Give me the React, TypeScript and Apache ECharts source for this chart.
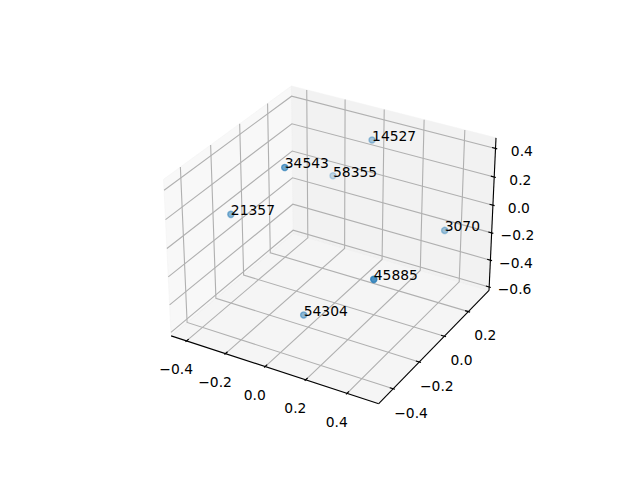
import React, { useEffect, useRef } from "react";
import * as echarts from "echarts";

const xLim = [-0.46, 0.53];
const yLim = [-0.49, 0.36];
const zLim = [-0.604, 0.451];
const xTicks = [-0.4, -0.2, 0.0, 0.2, 0.4];
const yTicks = [-0.4, -0.2, 0.0, 0.2];
const zTicks = [-0.6, -0.4, -0.2, 0.0, 0.2, 0.4];
const labels = ["14527", "3070", "45885", "34543", "21357", "58355", "54304"];
const xValues = [-0.018, 0.379, 0.41, -0.139, -0.375, -0.224, -0.011];
const yValues = [0.312, 0.272, -0.334, -0.158, -0.216, 0.32, -0.216];
const zValues = [0.299, -0.165, 0.015, 0.415, 0.043, -0.042, -0.527];

const DIST = 10;
const el = (30 * Math.PI) / 180, az = (-60 * Math.PI) / 180;
const W = [Math.cos(el) * Math.cos(az), Math.cos(el) * Math.sin(az), Math.sin(el)];
const n = Math.hypot(W[0], W[1]);
const U = [-W[1] / n, W[0] / n, 0];
const V = [W[1]*U[2]-W[2]*U[1], W[2]*U[0]-W[0]*U[2], W[0]*U[1]-W[1]*U[0]];
const k = 1.8294640721620434 / Math.hypot(4, 4, 3);
const B = [4 * k, 4 * k, 3 * k];
const OX = 143.2, OY = 427;
const dot = (a: number[], b: number[]) => a[0]*b[0]+a[1]*b[1]+a[2]*b[2];
function view(p: number[]) {
  const r = [
    (p[0]-xLim[0])/(xLim[1]-xLim[0])*B[0]-B[0]/2,
    (p[1]-yLim[0])/(yLim[1]-yLim[0])*B[1]-B[1]/2,
    (p[2]-zLim[0])/(zLim[1]-zLim[0])*B[2]-B[2]/2,
  ];
  return [dot(U,r),dot(V,r),dot(W,r)];
}
function project(p: number[]) {
  const v = view(p);
  const d = DIST - v[2];
  return [OX+(v[0]/d+0.095)/0.185*369.6, OY-(v[1]/d+0.095)/0.185*369.6];
}
const pts = xValues.map((x, i) => [x, yValues[i], zValues[i]]);
const depths = pts.map((p) => view(p)[2]);
const dMin = Math.min(...depths), dMax = Math.max(...depths);
const alphaOf = (i: number) => 0.3 + (0.7 * (depths[i] - dMin)) / (dMax - dMin);

const dx=(xLim[1]-xLim[0])/48, dy=(yLim[1]-yLim[0])/48, dz=(zLim[1]-zLim[0])/48;
const x0=xLim[0]-dx,x1=xLim[1]+dx,y0=yLim[0]-dy,y1=yLim[1]+dy,z0=zLim[0]-dz,z1=zLim[1]+dz;

type Poly={p:number[][],fill?:string,stroke?:string,w?:number};
const shapes:Poly[]=[];
const P=(a:number[][])=>a.map(project);
shapes.push({p:P([[x0,y0,z0],[x0,y1,z0],[x0,y1,z1],[x0,y0,z1]]),fill:"rgba(242,242,242,0.5)"});
shapes.push({p:P([[x0,y1,z0],[x1,y1,z0],[x1,y1,z1],[x0,y1,z1]]),fill:"rgba(230,230,230,0.5)"});
shapes.push({p:P([[x0,y0,z0],[x1,y0,z0],[x1,y1,z0],[x0,y1,z0]]),fill:"rgba(236,236,236,0.5)"});
const G="#b0b0b0";
xTicks.forEach(t=>shapes.push({p:P([[t,y0,z0],[t,y1,z0],[t,y1,z1]]),stroke:G,w:1.11}));
yTicks.forEach(t=>shapes.push({p:P([[x1,t,z0],[x0,t,z0],[x0,t,z1]]),stroke:G,w:1.11}));
zTicks.forEach(t=>shapes.push({p:P([[x0,y0,t],[x0,y1,t],[x1,y1,t]]),stroke:G,w:1.11}));
shapes.push({p:P([[x0,y0,z0],[x1,y0,z0]]),stroke:"#000",w:1.11});
shapes.push({p:P([[x1,y0,z0],[x1,y1,z0]]),stroke:"#000",w:1.11});
shapes.push({p:P([[x1,y1,z0],[x1,y1,z1]]),stroke:"#000",w:1.11});
const tx=(xLim[1]-xLim[0])/12, ty=(yLim[1]-yLim[0])/12;
xTicks.forEach(t=>shapes.push({p:P([[t,y0-0.1*ty,z0],[t,y0+0.2*ty,z0]]),stroke:"#000",w:1.11}));
yTicks.forEach(t=>shapes.push({p:P([[x1+0.1*tx,t,z0],[x1-0.2*tx,t,z0]]),stroke:"#000",w:1.11}));
zTicks.forEach(t=>shapes.push({p:P([[x1+0.1*tx,y1,t],[x1-0.2*tx,y1,t]]),stroke:"#000",w:1.11}));

const fmt=(t:number)=>(t<0?"\u2212":"")+Math.abs(t).toFixed(1);
const LD=1.037;
const tz=(zLim[1]-zLim[0])/12;
type T={s:number[],text:string};
const tickTexts:T[]=[];
const off=(s:number[],d:number)=>[s[0],s[1]+d];
xTicks.forEach(t=>tickTexts.push({s:off(project([t,y0-LD*ty,z0-LD*tz]),6),text:fmt(t)}));
yTicks.forEach(t=>tickTexts.push({s:off(project([x1+LD*tx,t,z0-LD*tz]),6),text:fmt(t)}));
zTicks.forEach(t=>tickTexts.push({s:off(project([x1+LD*tx,y1+LD*ty,t]),6),text:fmt(t)}));

export default function App(){
  const ref=useRef<HTMLDivElement>(null);
  useEffect(()=>{
    const chart=echarts.init(ref.current!,undefined,{renderer:"svg"});
    const scr=pts.map(project);
    chart.setOption({
      animation:false,backgroundColor:"#fff",
      grid:{left:0,right:0,top:0,bottom:0},
      xAxis:{type:"value",min:0,max:640,show:false},
      yAxis:{type:"value",min:0,max:480,inverse:true,show:false},
      series:[
        {type:"custom",coordinateSystem:"cartesian2d",clip:false,data:shapes.map((_,i)=>[i,0]),
          renderItem:(p:any,api:any)=>{const s=shapes[p.dataIndex];const q=s.p.map(c=>api.coord(c));
            return s.fill?{type:"polygon",shape:{points:q},style:{fill:s.fill,stroke:"rgba(242,242,242,0.5)",lineWidth:1}}
              :{type:"polyline",shape:{points:q},style:{fill:"none",stroke:s.stroke,lineWidth:s.w}};}},
        {type:"scatter",symbolSize:6.2,data:scr.map((c,i)=>{const col=`rgba(31,119,180,${alphaOf(i)})`;return {value:c,itemStyle:{color:col,borderColor:col,borderWidth:1.39}};})},
        {type:"custom",clip:false,data:scr.map(c=>[c[0],c[1]]),z:5,
          renderItem:(p:any,api:any)=>{const c=api.coord([api.value(0),api.value(1)]);
            return {type:"text",x:c[0],y:c[1]-4,style:{text:labels[p.dataIndex],fill:"#000",font:'13.89px "DejaVu Sans"',align:"left",verticalAlign:"middle"}};}},
        {type:"custom",clip:false,data:tickTexts.map(t=>t.s),z:5,
          renderItem:(p:any,api:any)=>{const c=api.coord([api.value(0),api.value(1)]);
            return {type:"text",x:c[0],y:c[1],style:{text:tickTexts[p.dataIndex].text,fill:"#000",font:'13.89px "DejaVu Sans"',align:"center",verticalAlign:"middle"}};}},
      ],
    });
    return ()=>chart.dispose();
  },[]);
  return <div ref={ref} style={{position:"fixed",left:0,top:0,width:640,height:480}}/>;
}
